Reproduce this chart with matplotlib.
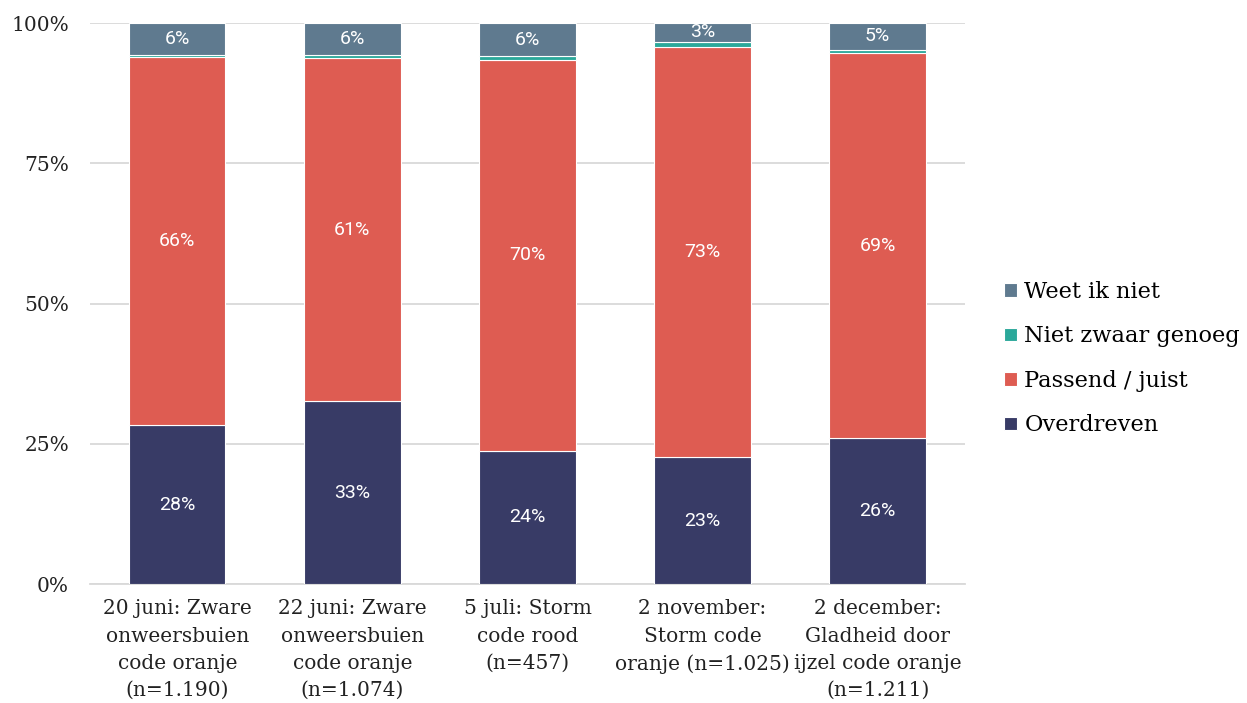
import numpy as np
import matplotlib
matplotlib.use("Agg")
import matplotlib.pyplot as plt

categories = [
    "20 juni: Zware\nonweersbuien\ncode oranje\n(n=1.190)",
    "22 juni: Zware\nonweersbuien\ncode oranje\n(n=1.074)",
    "5 juli: Storm\ncode rood\n(n=457)",
    "2 november:\nStorm code\noranje (n=1.025)",
    "2 december:\nGladheid door\nijzel code oranje\n(n=1.211)",
]
overdreven = [28.3, 32.6, 23.8, 22.6, 26.0]
passend = [65.6, 61.2, 69.6, 73.2, 68.6]
niet_zwaar = [0.5, 0.5, 0.7, 0.9, 0.7]
weet_niet = [5.6, 5.7, 5.9, 3.3, 4.7]

series = [
    ("Overdreven", overdreven, "#383B66"),
    ("Passend / juist", passend, "#DE5C52"),
    ("Niet zwaar genoeg", niet_zwaar, "#2BA89A"),
    ("Weet ik niet", weet_niet, "#5F7A8F"),
]

serif = "DejaVu Serif"

fig = plt.figure(figsize=(12.47, 7.03), dpi=100)
ax = fig.add_axes([0.072, 0.169, 0.702, 0.798])

x = np.arange(len(categories))
bottom = np.zeros(len(categories))
handles = []
for name, vals, color in series:
    vals = np.array(vals)
    b = ax.bar(x, vals, 0.55, bottom=bottom, color=color, edgecolor="white",
               linewidth=0.8, label=name, zorder=3)
    handles.append(b)
    if name != "Niet zwaar genoeg":
        for xi, v, b0 in zip(x, vals, bottom):
            ax.text(xi, b0 + v / 2, f"{round(v):d}%", ha="center", va="center",
                    color="white", fontsize=14, family="Roboto", zorder=4)
    bottom += vals

ax.set_xlim(-0.5, 4.5)
ax.set_ylim(0, 100)
ax.set_yticks([0, 25, 50, 75, 100])
ax.set_yticklabels(["0%", "25%", "50%", "75%", "100%"], family=serif, fontsize=14.5)
ax.set_xticks(x)
ax.set_xticklabels(categories, family=serif, fontsize=14.5, linespacing=1.55)
ax.tick_params(axis="both", length=0, colors="#222222")
ax.tick_params(axis="y", pad=15)
ax.tick_params(axis="x", pad=11)
ax.grid(axis="y", color="#D9D9D9", linewidth=1.3, zorder=0)
for s in ["top", "right", "left"]:
    ax.spines[s].set_visible(False)
ax.spines["bottom"].set_color("#D9D9D9")
ax.spines["bottom"].set_linewidth(1.3)

leg = fig.legend(handles[::-1], [s[0] for s in series][::-1],
                 loc="center left", bbox_to_anchor=(0.789, 0.49),
                 frameon=False, prop={"family": serif, "size": 16.2},
                 handlelength=0.55, handleheight=0.55, handletextpad=0.35,
                 labelspacing=1.0)

fig.savefig("out.png", dpi=100)
